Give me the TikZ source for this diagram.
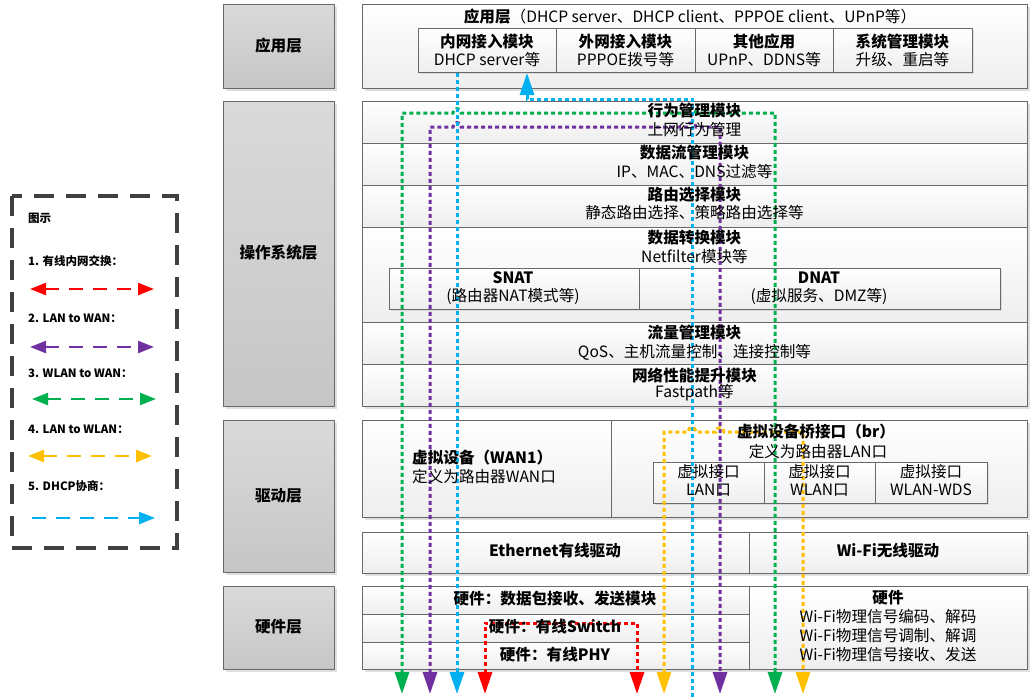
\documentclass[tikz,border=0pt]{standalone}
\usepackage{fontspec}
\setmainfont{Noto Sans CJK SC}
\usetikzlibrary{arrows.meta,shadows}
\definecolor{flowgreen}{RGB}{0,176,80}
\definecolor{flowpurple}{RGB}{112,48,160}
\definecolor{flowblue}{RGB}{0,176,240}
\definecolor{flowred}{RGB}{255,0,0}
\definecolor{flowyellow}{RGB}{255,192,0}
\definecolor{boxedge}{RGB}{105,105,105}
\definecolor{layertop}{RGB}{218,218,218}
\definecolor{layerbottom}{RGB}{198,198,198}
\definecolor{rowbottom}{RGB}{238,238,238}
\definecolor{keyframe}{RGB}{64,64,64}

\tikzset{
  shadowed/.style={drop shadow={shadow xshift=3pt,shadow yshift=-3pt,opacity=0.25}},
  layerbox/.style={draw=boxedge, line width=0.8pt, top color=layertop, bottom color=layerbottom, shadowed},
  rowbox/.style={draw=boxedge, line width=0.8pt, top color=white, bottom color=rowbottom},
  cellbox/.style={rowbox, drop shadow={shadow xshift=2pt,shadow yshift=-2pt,opacity=0.2}},
  txt/.style={inner sep=0pt, font=\fontsize{15.6}{17}\selectfont},
  boldtxt/.style={inner sep=0pt, font=\bfseries\fontsize{15.6}{17}\selectfont},
  keytxt/.style={anchor=west, inner sep=0pt, font=\bfseries\fontsize{11.5}{13}\selectfont},
  flow/.style={line width=3pt, dash pattern=on 4pt off 3pt, >={Triangle[length=22pt,width=14pt]}},
  keyflow/.style={line width=2.4pt, dash pattern=on 14pt off 10pt, >={Triangle[length=16pt,width=12pt]}},
  hop/.style args={#1/#2}{insert path={-- (#1-4,#2) .. controls (#1-4,#2-6) and (#1+4,#2-6) .. (#1+4,#2)}}
}

\begin{document}
\begin{tikzpicture}[x=1pt,y=-1pt]
  \useasboundingbox (0,0) rectangle (1032,696);

  % legend
  \draw[keyframe, line width=3.5pt, dash pattern=on 20pt off 12pt] (12,196) rectangle (177,548);
  \coordinate (k1a) at (30,289);  \coordinate (k1b) at (154,289);
  \coordinate (k2a) at (30,347);  \coordinate (k2b) at (154,347);
  \coordinate (k3a) at (32,399);  \coordinate (k3b) at (156,399);
  \coordinate (k4a) at (28,456);  \coordinate (k4b) at (152,456);
  \coordinate (k5a) at (32,518);  \coordinate (k5b) at (155,518);
  \draw[keyflow, flowred, <->] (k1a) -- (k1b);
  \draw[keyflow, flowpurple, <->] (k2a) -- (k2b);
  \draw[keyflow, flowgreen, <->] (k3a) -- (k3b);
  \draw[keyflow, flowyellow, <->] (k4a) -- (k4b);
  \draw[keyflow, flowblue, ->] (k5a) -- (k5b);
  \node[keytxt] (keyTitle) at (28,218) {图示};
  \node[keytxt] (key1) at (28,261) {1. 有线内网交换：};
  \node[keytxt] (key2) at (28,318) {2. LAN to WAN：};
  \node[keytxt] (key3) at (28,373) {3. WLAN to WAN：};
  \node[keytxt] (key4) at (28,429) {4. LAN to WLAN：};
  \node[keytxt] (key5) at (28,486) {5. DHCP协商：};

  % layer column
  \draw[layerbox] (223,4) rectangle (334,88);
  \draw[layerbox] (223,101) rectangle (334,406);
  \draw[layerbox] (223,420) rectangle (334,572);
  \draw[layerbox] (223,586) rectangle (334,669);

  % application layer
  \draw[rowbox, shadowed] (362,4) rectangle (1027,88);
  \draw[cellbox] (418,28) rectangle (556,72);
  \draw[cellbox] (556,28) rectangle (695,72);
  \draw[cellbox] (695,28) rectangle (833,72);
  \draw[cellbox] (833,28) rectangle (972,72);

  % operating system layer
  \draw[rowbox, shadowed] (362,101) rectangle (1027,406);
  \draw[rowbox] (362,101) rectangle (1027,143);
  \draw[rowbox] (362,143) rectangle (1027,185);
  \draw[rowbox] (362,185) rectangle (1027,227);
  \draw[rowbox] (362,227) rectangle (1027,322);
  \draw[rowbox] (362,322) rectangle (1027,364);
  \draw[rowbox] (362,364) rectangle (1027,406);
  \draw[cellbox] (389,268) rectangle (639,309);
  \draw[cellbox] (639,268) rectangle (1000,309);

  % driver layer
  \draw[rowbox, shadowed] (362,420) rectangle (1027,517);
  \draw[rowbox] (362,420) rectangle (611,517);
  \draw[rowbox] (611,420) rectangle (1027,517);
  \draw[cellbox] (653,462) rectangle (764,503);
  \draw[cellbox] (764,462) rectangle (875,503);
  \draw[cellbox] (875,462) rectangle (987,503);
  \draw[rowbox, shadowed] (362,532) rectangle (1027,573);
  \draw[boxedge, line width=0.8pt] (749,532) -- (749,573);

  % hardware layer
  \draw[rowbox, shadowed] (362,586) rectangle (1027,669);
  \draw[rowbox] (362,586) rectangle (749,614);
  \draw[rowbox] (362,614) rectangle (749,642);
  \draw[rowbox] (362,642) rectangle (749,669);
  \draw[rowbox] (749,586) rectangle (1027,669);

  % flows
  \coordinate (gA) at (402,694); \coordinate (gB) at (402,113);
  \coordinate (gC) at (775,113); \coordinate (gD) at (775,694);
  \coordinate (pA) at (430,694); \coordinate (pB) at (430,127);
  \coordinate (pC) at (720,127); \coordinate (pD) at (720,694);
  \coordinate (bA) at (457,73);  \coordinate (bB) at (457,694);
  \coordinate (bC) at (692,697); \coordinate (bD) at (692,99);
  \coordinate (bE) at (527,99);  \coordinate (bF) at (527,73);
  \coordinate (rA) at (485,694); \coordinate (rB) at (485,623);
  \coordinate (rC) at (637,623); \coordinate (rD) at (637,694);
  \coordinate (yA) at (664,694); \coordinate (yB) at (664,432);
  \coordinate (yC) at (803,432); \coordinate (yD) at (803,694);
  \draw[flow, flowgreen, <->] (gA) -- (gB) [hop=457/113] [hop=692/113] -- (gC) -- (gD);
  \draw[flow, flowpurple, <->] (pA) -- (pB) [hop=457/127] [hop=692/127] -- (pC) -- (pD);
  \draw[flow, flowblue, ->] (bA) -- (bB);
  \draw[flow, flowblue, ->] (bC) -- (bD) -- (bE) -- (bF);
  \draw[flow, flowred, <->] (rA) -- (rB) -- (rC) -- (rD);
  \draw[flow, flowyellow, <->] (yA) -- (yB) [hop=692/432] [hop=720/432] -- (yC) -- (yD);

  % labels
  \node[boldtxt] (appLayer) at (278.5,46) {应用层};
  \node[boldtxt] (osLayer) at (278.5,253) {操作系统层};
  \node[boldtxt] (drvLayer) at (278.5,496) {驱动层};
  \node[boldtxt] (hwLayer) at (278.5,627) {硬件层};

  \node[txt] (appTitle) at (690,17) {\textbf{应用层}（DHCP server、DHCP client、PPPOE client、UPnP等）};
  \node[boldtxt] (lanAccess) at (487,42) {内网接入模块};
  \node[txt] (lanAccessSub) at (487,60) {DHCP server等};
  \node[boldtxt] (wanAccess) at (625.5,42) {外网接入模块};
  \node[txt] (wanAccessSub) at (625.5,60) {PPPOE拨号等};
  \node[boldtxt] (otherApp) at (764,42) {其他应用};
  \node[txt] (otherAppSub) at (764,60) {UPnP、DDNS等};
  \node[boldtxt] (sysMgmt) at (902.5,42) {系统管理模块};
  \node[txt] (sysMgmtSub) at (902.5,60) {升级、重启等};

  \node[boldtxt] (behavior) at (694.5,111) {行为管理模块};
  \node[txt] (behaviorSub) at (694.5,130) {上网行为管理};
  \node[boldtxt] (dataFlow) at (694.5,153) {数据流管理模块};
  \node[txt] (dataFlowSub) at (694.5,172) {IP、MAC、DNS过滤等};
  \node[boldtxt] (routing) at (694.5,195) {路由选择模块};
  \node[txt] (routingSub) at (694.5,213) {静态路由选择、策略路由选择等};
  \node[boldtxt] (convert) at (694.5,238) {数据转换模块};
  \node[txt] (convertSub) at (694.5,257) {Netfilter模块等};
  \node[boldtxt] (snat) at (513,278) {SNAT};
  \node[txt] (snatSub) at (513,296) {(路由器NAT模式等)};
  \node[boldtxt] (dnat) at (819,278) {DNAT};
  \node[txt] (dnatSub) at (819,296) {(虚拟服务、DMZ等)};
  \node[boldtxt] (traffic) at (694.5,333) {流量管理模块};
  \node[txt] (trafficSub) at (694.5,352) {QoS、主机流量控制、连接控制等};
  \node[boldtxt] (perf) at (694.5,375) {网络性能提升模块};
  \node[txt] (perfSub) at (694.5,393) {Fastpath等};

  \node[boldtxt, anchor=west] (wanDev) at (412,458) {虚拟设备（WAN1）};
  \node[txt, anchor=west] (wanDevSub) at (412,477) {定义为路由器WAN口};
  \node[boldtxt] (bridge) at (816,432) {虚拟设备桥接口（br）};
  \node[txt] (bridgeSub) at (818,452) {定义为路由器LAN口};
  \node[txt] (ifLan) at (708.5,472) {虚拟接口};
  \node[txt] (ifLanSub) at (708.5,490) {LAN口};
  \node[txt] (ifWlan) at (819.5,472) {虚拟接口};
  \node[txt] (ifWlanSub) at (819.5,490) {WLAN口};
  \node[txt] (ifWds) at (931,472) {虚拟接口};
  \node[txt] (ifWdsSub) at (931,490) {WLAN-WDS};
  \node[boldtxt] (ethDrv) at (555,551) {Ethernet有线驱动};
  \node[boldtxt] (wifiDrv) at (888,551) {Wi-Fi无线驱动};

  \node[boldtxt] (hwPacket) at (555,599) {硬件：数据包接收、发送模块};
  \node[boldtxt] (hwSwitch) at (555,627) {硬件：有线Switch};
  \node[boldtxt] (hwPhy) at (555,655) {硬件：有线PHY};
  \node[boldtxt] (hwWifi) at (888,598) {硬件};
  \node[txt] (hwWifi1) at (888,617) {Wi-Fi物理信号编码、解码};
  \node[txt] (hwWifi2) at (888,636) {Wi-Fi物理信号调制、解调};
  \node[txt] (hwWifi3) at (888,655) {Wi-Fi物理信号接收、发送};
\end{tikzpicture}
\end{document}
